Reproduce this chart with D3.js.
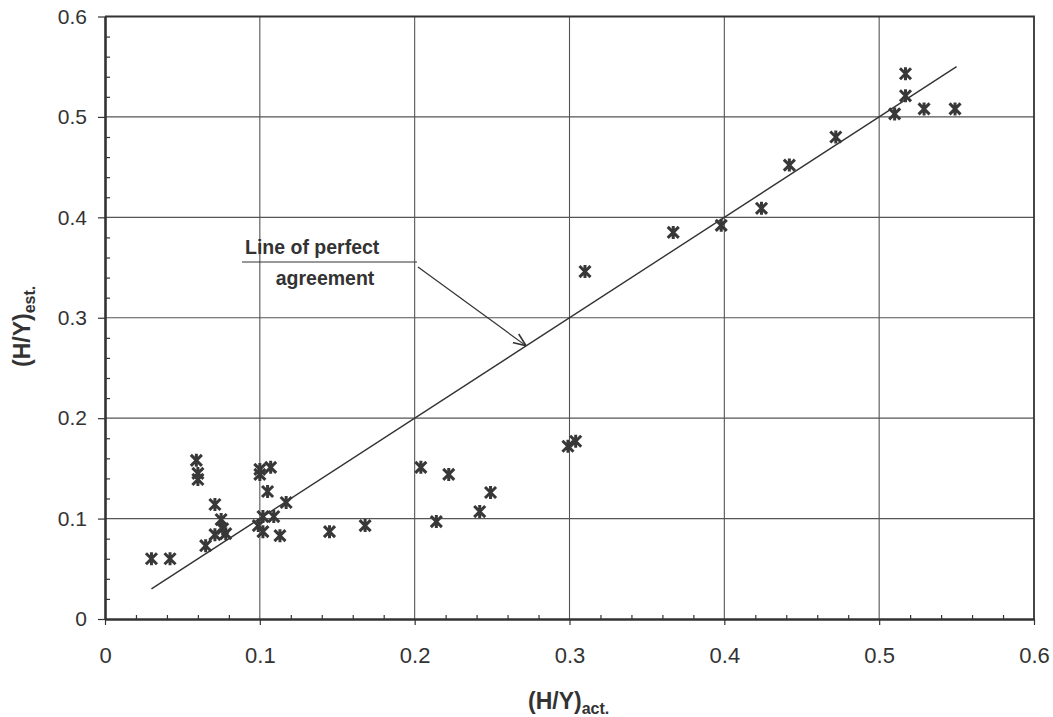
<!DOCTYPE html>
<html>
<head>
<meta charset="utf-8">
<script src="https://cdn.jsdelivr.net/npm/d3@7"></script>
<style>
  body { margin: 0; background: #fff; }
  svg { display: block; }
  text { font-family: "Liberation Sans", Arial, sans-serif; fill: #333; }
</style>
</head>
<body>
<svg id="chart" width="1053" height="717"></svg>
<script>
var actual = [0.030, 0.042, 0.059, 0.060, 0.060, 0.071, 0.075, 0.076, 0.071, 0.078,
    0.065, 0.100, 0.100, 0.107, 0.105, 0.117, 0.102, 0.109, 0.099, 0.102,
    0.113, 0.145, 0.168, 0.204, 0.222, 0.214, 0.242, 0.249, 0.299, 0.304,
    0.310, 0.367, 0.398, 0.424, 0.442, 0.472, 0.510, 0.517, 0.517, 0.529, 0.549];
var estimated = [0.060, 0.060, 0.158, 0.145, 0.139, 0.114, 0.099, 0.090, 0.084, 0.085,
    0.073, 0.149, 0.144, 0.151, 0.127, 0.116, 0.102, 0.102, 0.093, 0.087,
    0.083, 0.087, 0.093, 0.151, 0.144, 0.097, 0.107, 0.126, 0.172, 0.177,
    0.346, 0.385, 0.392, 0.409, 0.452, 0.480, 0.503, 0.521, 0.543, 0.508, 0.508];
var perfectLine = [0.03, 0.55];
var tickValues = [0, 0.1, 0.2, 0.3, 0.4, 0.5, 0.6];
var tickLabels = ["0", "0.1", "0.2", "0.3", "0.4", "0.5", "0.6"];
var gridValues = [0.1, 0.2, 0.3, 0.4, 0.5];

var ink = "#333";
var gridInk = "#555";

var svg = d3.select("#chart");
var x = d3.scaleLinear().domain([0, 0.6]).range([105, 1034]);
var y = d3.scaleLinear().domain([0, 0.6]).range([619, 16.5]);

// minor ticks every 0.02
var minorValues = d3.range(1, 30).filter(function (i) { return i % 5; })
    .map(function (i) { return i / 50; });

// Grid
svg.append("g")
    .selectAll("line.vgrid")
    .data(gridValues)
    .enter().append("line")
    .attr("x1", function (d) { return x(d); })
    .attr("x2", function (d) { return x(d); })
    .attr("y1", y(0))
    .attr("y2", y(0.6))
    .style("stroke", gridInk)
    .style("stroke-width", 1.1);

svg.append("g")
    .selectAll("line.hgrid")
    .data(gridValues)
    .enter().append("line")
    .attr("x1", x(0))
    .attr("x2", x(0.6))
    .attr("y1", function (d) { return y(d); })
    .attr("y2", function (d) { return y(d); })
    .style("stroke", gridInk)
    .style("stroke-width", 1.1);

// Top and right border
svg.append("path")
    .attr("d", "M" + x(0) + "," + y(0.6) + "H" + x(0.6) + "V" + y(0))
    .style("fill", "none")
    .style("stroke", ink)
    .style("stroke-width", 1.8);

// Y axis
var yAxis = svg.append("g")
    .attr("transform", "translate(" + x(0) + ",0)")
    .call(d3.axisLeft(y)
        .tickValues(tickValues)
        .tickSize(7)
        .tickSizeOuter(0)
        .tickPadding(11)
        .tickFormat(function (d, i) { return tickLabels[i]; }));

svg.append("g")
    .attr("transform", "translate(" + x(0) + ",0)")
    .call(d3.axisRight(y).tickValues(minorValues).tickSize(5).tickFormat(""))
    .select(".domain").remove();

// X axis
var xAxis = svg.append("g")
    .attr("transform", "translate(0," + y(0) + ")")
    .call(d3.axisBottom(x)
        .tickValues(tickValues)
        .tickSize(6)
        .tickSizeOuter(0)
        .tickPadding(22)
        .tickFormat(function (d, i) { return tickLabels[i]; }));

svg.append("g")
    .attr("transform", "translate(0," + y(0) + ")")
    .call(d3.axisTop(x).tickValues(minorValues).tickSize(4).tickFormat(""))
    .select(".domain").remove();

svg.selectAll(".tick line").style("stroke", ink).style("stroke-width", 1.2);
svg.selectAll(".domain").style("stroke", ink).style("stroke-width", 2.6);
yAxis.selectAll(".tick text").style("font-size", "21px").style("fill", ink);
xAxis.selectAll(".tick text").style("font-size", "22px").style("fill", ink);

// Line of perfect agreement
svg.append("line")
    .attr("x1", x(perfectLine[0]))
    .attr("y1", y(perfectLine[0]))
    .attr("x2", x(perfectLine[1]))
    .attr("y2", y(perfectLine[1]))
    .style("stroke", ink)
    .style("stroke-width", 1.4);

// Star markers (vertical bar + X)
var star = {
    draw: function (context, size) {
        var r = Math.sqrt(size) / 2;
        var u = r * 0.85;
        context.moveTo(0, -r);
        context.lineTo(0, r);
        context.moveTo(-u, -u);
        context.lineTo(u, u);
        context.moveTo(-u, u);
        context.lineTo(u, -u);
    }
};

svg.append("g")
    .selectAll("path.pt")
    .data(actual)
    .enter().append("path")
    .attr("class", "pt")
    .attr("transform", function (d, i) {
        return "translate(" + x(d) + "," + y(estimated[i]) + ")";
    })
    .attr("d", d3.symbol().type(star).size(169))
    .style("fill", "none")
    .style("stroke", "#383838")
    .style("stroke-width", 3);

// Annotation
svg.append("defs").append("marker")
    .attr("id", "arrowHead")
    .attr("viewBox", "0 0 10 10")
    .attr("refX", 10)
    .attr("refY", 5)
    .attr("markerWidth", 13)
    .attr("markerHeight", 13)
    .attr("markerUnits", "userSpaceOnUse")
    .attr("orient", "auto")
    .append("path")
    .attr("d", "M0,1 L10,5 L0,9")
    .style("fill", "none")
    .style("stroke", ink)
    .style("stroke-width", 1.2);

var tip = 0.272;
svg.append("line")
    .attr("x1", 418)
    .attr("y1", 267)
    .attr("x2", x(tip))
    .attr("y2", y(tip))
    .attr("marker-end", "url(#arrowHead)")
    .style("stroke", ink)
    .style("stroke-width", 1.2);

svg.append("line")
    .attr("x1", 242)
    .attr("x2", 417)
    .attr("y1", 262)
    .attr("y2", 262)
    .style("stroke", ink)
    .style("stroke-width", 1.2);

svg.append("text")
    .attr("x", 245)
    .attr("y", 254)
    .style("font-size", "19.5px")
    .style("font-weight", "bold")
    .text("Line of perfect");

svg.append("text")
    .attr("x", 325)
    .attr("y", 285)
    .attr("text-anchor", "middle")
    .style("font-size", "19.5px")
    .style("font-weight", "bold")
    .text("agreement");

// Axis titles
var xTitle = svg.append("text")
    .attr("x", 528)
    .attr("y", 709)
    .style("font-size", "23px")
    .style("font-weight", "bold");
xTitle.append("tspan").text("(H/Y)");
xTitle.append("tspan").attr("dy", 5).style("font-size", "16px").text("act.");

var yTitle = svg.append("text")
    .attr("transform", "translate(30,367) rotate(-90)")
    .style("font-size", "23px")
    .style("font-weight", "bold");
yTitle.append("tspan").text("(H/Y)");
yTitle.append("tspan").attr("dy", 5).style("font-size", "16px").text("est.");
</script>
</body>
</html>
